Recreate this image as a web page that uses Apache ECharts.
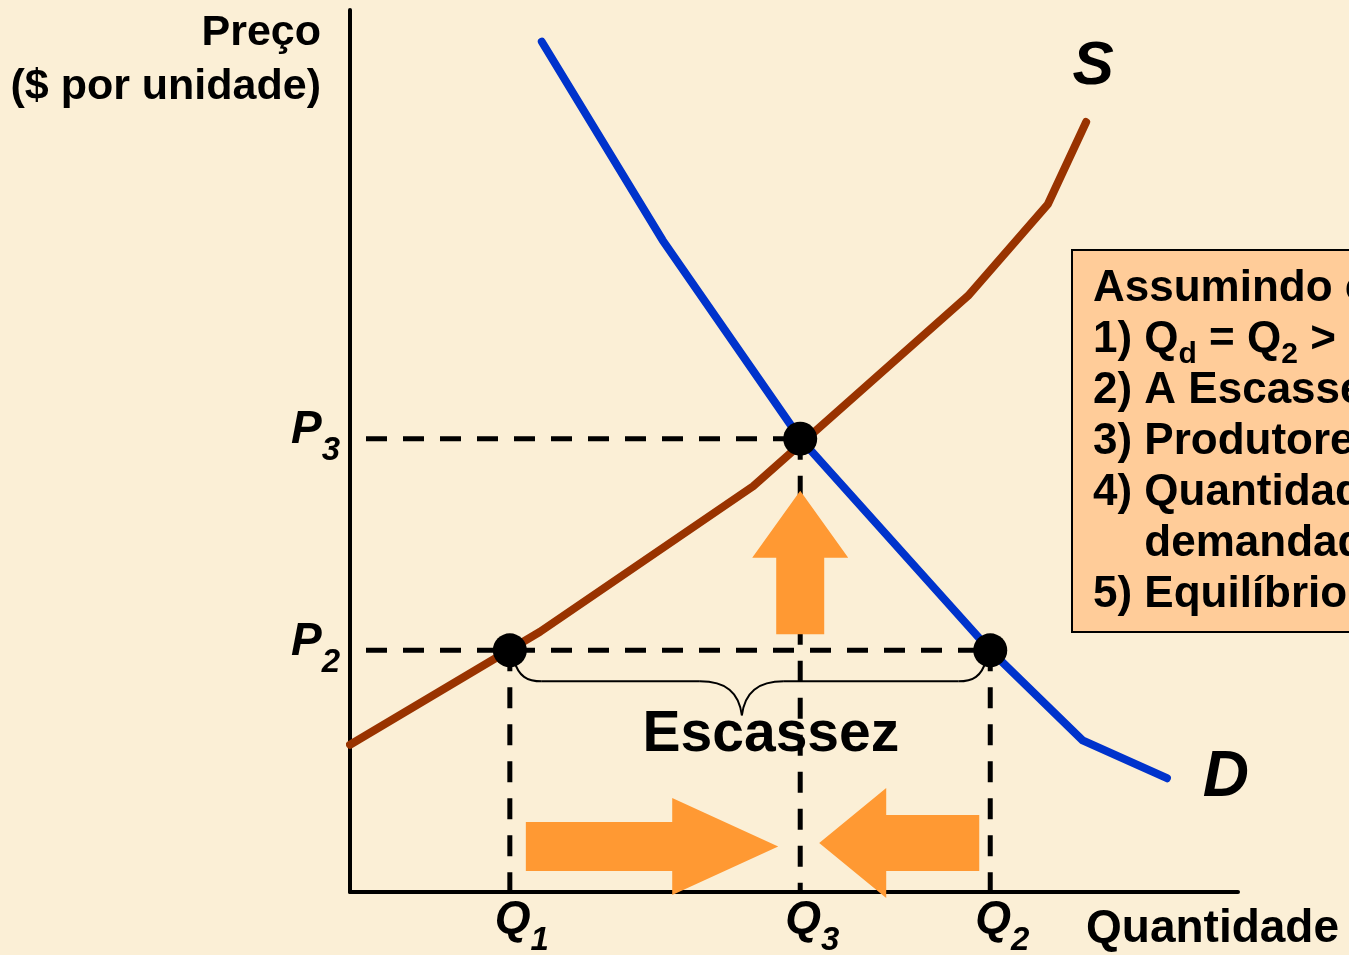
<!DOCTYPE html>
<html>
<head>
<meta charset="utf-8">
<title>Escassez</title>
<script src="https://cdn.jsdelivr.net/npm/echarts@6.0.0/dist/echarts.min.js"></script>
<style>
  html, body { margin: 0; padding: 0; background: #FBEFD6; }
  #main { width: 1349px; height: 955px; }
</style>
</head>
<body>
<div id="main"></div>
<script>
// escalas: quantidade 0..10, preço 0..10
var quantityValues = [1.80, 5.07, 7.21];   // Q1, Q3, Q2
var quantityLabels = ['Q1', 'Q3', 'Q2'];
var priceValues = [2.74, 5.14];            // P2, P3
var priceLabels = ['P2', 'P3'];

// curva de oferta (S)
var supplyQ = [0, 2.14, 4.54, 6.96, 7.86, 8.29];
var supplyP = [1.67, 2.95, 4.60, 6.76, 7.80, 8.73];
// curva de demanda (D)
var demandQ = [2.16, 3.52, 5.07, 7.21, 8.25, 9.20];
var demandP = [9.64, 7.39, 5.14, 2.74, 1.72, 1.29];

var Q1 = quantityValues[0], Q3 = quantityValues[1], Q2 = quantityValues[2];
var P2 = priceValues[0], P3 = priceValues[1];

var FONT = "'Liberation Sans', Arial, Helvetica, sans-serif";
var ORANGE = '#FF9933';

// linhas tracejadas de referência
var guides = [
    [[0.18, P3], [Q3, P3]],
    [[0.18, P2], [Q2, P2]],
    [[Q1, P2], [Q1, 0]],
    [[Q3, P3], [Q3, 0]],
    [[Q2, P2], [Q2, 0]]
];

// setas (pontas em unidades dos eixos, recuos em px)
var arrows = [
    { from: [Q3, P2], to: [Q3, P3], inset: [16, 52], shift: [0, 0], shaft: 24, head: 48, headLen: 67 },
    { from: [Q1, 0], to: [Q3, 0], inset: [16, 22], shift: [0, -45.5], shaft: 24.5, head: 48.5, headLen: 106 },
    { from: [Q2, 0], to: [Q3, 0], inset: [11, 19], shift: [0, -49], shaft: 28, head: 55, headLen: 67 }
];

function subLabel(list, values) {
    return function (v) {
        var best = 0;
        for (var i = 1; i < values.length; i++) {
            if (Math.abs(values[i] - v) < Math.abs(values[best] - v)) best = i;
        }
        var lab = list[best];
        return '{p|' + lab.charAt(0) + '}{s|' + lab.slice(1) + '}';
    };
}

var labelRich = {
    p: { fontSize: 46, fontStyle: 'italic', fontWeight: 'bold', fontFamily: FONT, color: '#000', lineHeight: 46 },
    s: { fontSize: 33, fontStyle: 'italic', fontWeight: 'bold', fontFamily: FONT, color: '#000', lineHeight: 46, padding: [41, 0, 0, 0] }
};

function renderArrow(params, api) {
    var a = arrows[params.dataIndex];
    var p0 = api.coord(a.from), p1 = api.coord(a.to);
    var dx = p1[0] - p0[0], dy = p1[1] - p0[1];
    var len = Math.sqrt(dx * dx + dy * dy);
    var ux = dx / len, uy = dy / len, nx = -uy, ny = ux;
    var sx = p0[0] + ux * a.inset[0] + a.shift[0], sy = p0[1] + uy * a.inset[0] + a.shift[1];
    var tx = p1[0] - ux * a.inset[1] + a.shift[0], ty = p1[1] - uy * a.inset[1] + a.shift[1];
    var bx = tx - ux * a.headLen, by = ty - uy * a.headLen;
    var pts = [
        [sx + nx * a.shaft, sy + ny * a.shaft],
        [bx + nx * a.shaft, by + ny * a.shaft],
        [bx + nx * a.head, by + ny * a.head],
        [tx, ty],
        [bx - nx * a.head, by - ny * a.head],
        [bx - nx * a.shaft, by - ny * a.shaft],
        [sx - nx * a.shaft, sy - ny * a.shaft]
    ];
    return { type: 'polygon', shape: { points: pts }, style: { fill: ORANGE } };
}

function renderBrace(params, api) {
    var L = api.coord([Q1, P2]), R = api.coord([Q2, P2]);
    var x0 = L[0], x1 = R[0], yb = L[1];
    var m = x0 + (x1 - x0) * 0.483;
    var st = { stroke: '#000', lineWidth: 2, fill: null };
    function bz(a, c1, c2, b) {
        return { type: 'bezierCurve', shape: { x1: a[0], y1: a[1], cpx1: c1[0], cpy1: c1[1], cpx2: c2[0], cpy2: c2[1], x2: b[0], y2: b[1] }, style: st };
    }
    function ln(a, b) {
        return { type: 'line', shape: { x1: a[0], y1: a[1], x2: b[0], y2: b[1] }, style: st };
    }
    return {
        type: 'group',
        children: [
            bz([x0 + 4, yb + 10], [x0 + 9, yb + 26], [x0 + 17, yb + 31], [x0 + 32, yb + 31]),
            ln([x0 + 32, yb + 31], [m - 42, yb + 31]),
            bz([m - 42, yb + 31], [m - 16, yb + 31], [m - 3, yb + 42], [m, yb + 65]),
            bz([m, yb + 65], [m + 3, yb + 42], [m + 16, yb + 31], [m + 42, yb + 31]),
            ln([m + 42, yb + 31], [x1 - 32, yb + 31]),
            bz([x1 - 32, yb + 31], [x1 - 17, yb + 31], [x1 - 9, yb + 26], [x1 - 4, yb + 10]),
            {
                type: 'text',
                x: m + 29, y: yb + 85,
                style: { text: 'Escassez', fill: '#000', fontSize: 57, fontWeight: 'bold', fontFamily: FONT, align: 'center', verticalAlign: 'middle' }
            }
        ]
    };
}

var series = [];

guides.forEach(function (g) {
    series.push({
        type: 'line',
        data: g,
        symbol: 'none',
        silent: true,
        z: 1,
        lineStyle: { color: '#000', width: 5, type: [21, 16] }
    });
});

series.push({
    type: 'line',
    name: 'S',
    data: supplyQ.map(function (q, i) { return [q, supplyP[i]]; }),
    symbol: 'none',
    z: 3,
    lineStyle: { color: '#993300', width: 8, cap: 'round', join: 'round' },
    endLabel: {
        show: true, formatter: 'S', distance: 0, offset: [7, -55],
        align: 'center', verticalAlign: 'middle',
        fontSize: 62, fontWeight: 'bold', fontStyle: 'italic', fontFamily: FONT, color: '#000'
    }
});

series.push({
    type: 'line',
    name: 'D',
    data: demandQ.map(function (q, i) { return [q, demandP[i]]; }),
    symbol: 'none',
    z: 3,
    lineStyle: { color: '#0033CC', width: 8, cap: 'round', join: 'round' },
    endLabel: {
        show: true, formatter: 'D', distance: 0, offset: [59, 0],
        align: 'center', verticalAlign: 'middle',
        fontSize: 64, fontWeight: 'bold', fontStyle: 'italic', fontFamily: FONT, color: '#000'
    }
});

series.push({
    type: 'custom',
    data: arrows.map(function (a) { return a.from; }),
    renderItem: renderArrow,
    clip: false,
    z: 4,
    silent: true
});

series.push({
    type: 'custom',
    data: [[Q1, P2]],
    renderItem: renderBrace,
    clip: false,
    z: 5,
    silent: true
});

series.push({
    type: 'scatter',
    data: [[Q1, P2], [Q3, P3], [Q2, P2]],
    symbol: 'circle',
    symbolSize: 34,
    itemStyle: { color: '#000', opacity: 1 },
    z: 6,
    silent: true
});

var boxText = [
    'Assumindo o preço em P{sub|2}:',
    '1) Q{sub|d} = Q{sub|2} > Q{sub|s} = Q{sub|1}',
    '2) A Escassez é Q{sub|2} - Q{sub|1}',
    '3) Produtores aumentam o preço',
    '4) Quantidade ofertada aumenta e',
    '{ind|4) }demandada diminui',
    '5) Equilíbrio em P{sub|3}, Q{sub|3}'
].join('\n');

var chart = echarts.init(document.getElementById('main'));
chart.setOption({
    animation: false,
    backgroundColor: '#FBEFD6',
    grid: { left: 350, top: 10, right: 111, bottom: 63, containLabel: false, outerBoundsMode: 'none' },
    xAxis: {
        type: 'value', min: 0, max: 10,
        axisLine: { show: true, lineStyle: { color: '#000', width: 4 } },
        axisTick: { show: false },
        splitLine: { show: false },
        axisLabel: {
            customValues: quantityValues,
            formatter: subLabel(quantityLabels, quantityValues),
            rich: labelRich,
            margin: 5,
            padding: [0, 0, 0, 24]
        },
        name: 'Quantidade',
        nameLocation: 'end',
        nameGap: -152,
        nameMoveOverlap: false,
        nameTextStyle: {
            color: '#000', fontSize: 46, fontWeight: 'bold', fontFamily: FONT,
            align: 'left', verticalAlign: 'top', lineHeight: 46, padding: [14, 0, 0, 0]
        }
    },
    yAxis: {
        type: 'value', min: 0, max: 10,
        axisLine: { show: true, lineStyle: { color: '#000', width: 4 } },
        axisTick: { show: false },
        splitLine: { show: false },
        axisLabel: {
            customValues: priceValues,
            formatter: subLabel(priceLabels, priceValues),
            rich: labelRich,
            margin: 10,
            padding: [0, 0, 16, 0]
        },
        name: 'Preço\n($ por unidade)',
        nameLocation: 'end',
        nameGap: 4,
        nameMoveOverlap: false,
        nameTextStyle: {
            color: '#000', fontSize: 43, fontWeight: 'bold', fontFamily: FONT,
            align: 'right', verticalAlign: 'top', lineHeight: 54, padding: [0, 29, 0, 0]
        }
    },
    graphic: [
        {
            type: 'rect', z: 100,
            shape: { x: 1072, y: 250, width: 330, height: 382 },
            style: { fill: '#FFCC99', stroke: '#000', lineWidth: 2 }
        },
        {
            type: 'text', z: 101, x: 1093, y: 263,
            style: {
                text: boxText,
                fill: '#000', fontSize: 44, fontWeight: 'bold', fontFamily: FONT,
                lineHeight: 51, verticalAlign: 'top',
                rich: {
                    sub: { fontSize: 30, fontWeight: 'bold', fontFamily: FONT, fill: '#000', lineHeight: 51, padding: [30, 0, 0, 0] },
                    ind: { fontSize: 44, fontWeight: 'bold', fontFamily: FONT, lineHeight: 51, fill: 'rgba(0,0,0,0)' }
                }
            }
        }
    ],
    series: series
});
</script>
</body>
</html>
